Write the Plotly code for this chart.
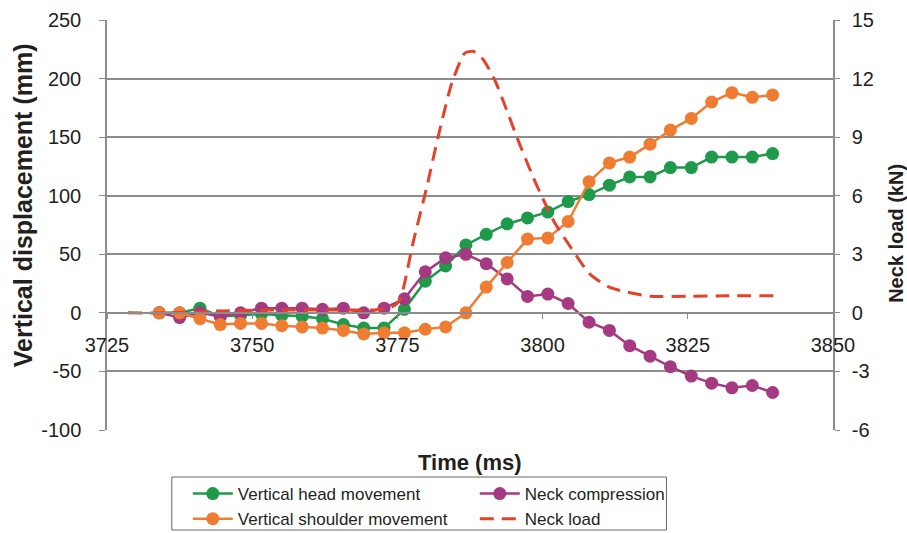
import plotly.graph_objects as go

# Time base (ms) shared by the three displacement series
time_ms = [3734.0, 3737.5, 3741.0, 3744.5, 3748.0, 3751.6, 3755.1, 3758.6, 3762.1, 3765.7,
           3769.2, 3772.7, 3776.2, 3779.8, 3783.3, 3786.8, 3790.3, 3793.9, 3797.4, 3800.9,
           3804.4, 3808.0, 3811.5, 3815.0, 3818.5, 3822.0, 3825.6, 3829.1, 3832.6, 3836.1,
           3839.6]

head_mm = [0, 0, 4, -3, -2, -1, -2, -3, -5, -10,
           -13, -13, 3, 27, 40, 58, 67, 76, 81, 86,
           95, 101, 109, 116, 116, 124, 124, 133, 133, 133,
           136]

shoulder_mm = [0, 0, -5, -10, -9, -9, -11, -12, -13, -15,
               -18, -17, -17, -14, -12, 0, 22, 43, 63, 64,
               78, 112, 128, 133, 144, 156, 166, 180, 188, 184,
               186]

compression_mm = [0, -4, 0, -3, 0, 4, 4, 4, 3, 4,
                  0, 4, 12, 35, 47, 50, 42, 29, 14, 16,
                  8, -8, -15, -28, -37, -46, -54, -60, -64, -62,
                  -68]

# Neck load (kN), right axis
load_t = [3728.6, 3735.0, 3745.0, 3755.0, 3765.0, 3771.0, 3774.0, 3775.4, 3777.7, 3780.1,
          3782.0, 3784.4, 3786.6, 3788.0, 3789.7, 3791.8, 3793.8, 3795.7, 3798.3, 3799.5,
          3802.1, 3805.2, 3808.1, 3811.6, 3815.5, 3818.5, 3825.0, 3832.0, 3840.0]
load_kn = [0, 0, 0.1, 0.15, 0.15, 0.15, 0.3, 0.65, 3.6, 6.5,
           9.0, 11.8, 13.3, 13.4, 13.0, 11.9, 10.4, 8.9, 7.0, 6.2,
           4.6, 3.2, 2.0, 1.3, 1.0, 0.85, 0.85, 0.87, 0.87]

x_ticks = [3725, 3750, 3775, 3800, 3825, 3850]
y_ticks = [-100, -50, 0, 50, 100, 150, 200, 250]
y_tick_labels = ["-100", "-50", "0", "50", "100", "150", "200", "250"]
y2_ticks = [-6, -3, 0, 3, 6, 9, 12, 15]
y2_tick_labels = ["-6", "-3", "0", "3", "6", "9", "12", "15"]

GREEN = "#1f9a4a"
PURPLE = "#a63a82"
ORANGE = "#f07c32"
RED = "#e4432a"
GRID = "#8c8c8c"
FONT = "Liberation Sans, Arial, sans-serif"
TXT = "#231f20"

fig = go.Figure()
fig.add_trace(go.Scatter(x=time_ms, y=head_mm, name="Vertical head movement",
                         mode="lines+markers", line=dict(color=GREEN, width=2.5),
                         marker=dict(color=GREEN, size=13), legendrank=1))
fig.add_trace(go.Scatter(x=time_ms, y=compression_mm, name="Neck compression",
                         mode="lines+markers", line=dict(color=PURPLE, width=2.5),
                         marker=dict(color=PURPLE, size=13), legendrank=2))
fig.add_trace(go.Scatter(x=time_ms, y=shoulder_mm, name="Vertical shoulder movement",
                         mode="lines+markers", line=dict(color=ORANGE, width=2.5),
                         marker=dict(color=ORANGE, size=13), legendrank=3))
fig.add_trace(go.Scatter(x=load_t, y=load_kn, name="Neck load", yaxis="y2",
                         mode="lines", line=dict(color=RED, width=3, dash="14px,8px",
                                                 shape="spline", smoothing=0.6),
                         legendrank=4))

fig.update_layout(
    width=907, height=533,
    margin=dict(l=107, r=74, t=20, b=103, autoexpand=False),
    paper_bgcolor="white", plot_bgcolor="white",
    font=dict(family=FONT, color=TXT),
    xaxis=dict(range=[3725, 3850], tickvals=x_ticks, anchor="free", position=100 / 350,
               showline=True, linecolor=GRID, linewidth=1.5, ticks="outside", ticklen=5,
               tickcolor=GRID, showgrid=False, zeroline=False,
               tickfont=dict(size=20, color=TXT), ticklabelstandoff=9),
    yaxis=dict(range=[-100, 250], tickvals=y_ticks, ticktext=y_tick_labels,
               showgrid=True, gridcolor=GRID,
               gridwidth=1.5, showline=True, linecolor=GRID, linewidth=1.5,
               ticks="outside", ticklen=6, tickcolor=GRID, zeroline=False,
               tickfont=dict(size=20, color=TXT), ticklabelstandoff=14),
    yaxis2=dict(range=[-6, 15], tickvals=y2_ticks, ticktext=y2_tick_labels,
                overlaying="y", side="right",
                showgrid=False, showline=True, linecolor=GRID, linewidth=1.5,
                ticks="outside", ticklen=5, tickcolor=GRID, zeroline=False,
                tickfont=dict(size=20, color=TXT), ticklabelstandoff=8),
    legend=dict(orientation="h", x=(188 - 107) / 728, y=(430 - 476) / 410,
                xanchor="left", yanchor="top",
                borderwidth=0, font=dict(size=17, color=TXT),
                entrywidth=232, entrywidthmode="pixels", itemwidth=40, tracegroupgap=0,
                bgcolor="rgba(0,0,0,0)"),
    showlegend=True,
    shapes=[dict(type="rect", xref="paper", yref="paper",
                 x0=(172 - 107) / 728, x1=(668 - 107) / 728,
                 y0=(430 - 530) / 410, y1=(430 - 477) / 410,
                 line=dict(color="#666666", width=1), fillcolor="rgba(0,0,0,0)")],
    annotations=[
        dict(text="<b>Vertical displacement (mm)</b>", xref="paper", yref="paper",
             x=(23 - 107) / 728, y=(430 - 205) / 410, textangle=-90, showarrow=False,
             font=dict(size=25, color=TXT), xanchor="center", yanchor="middle"),
        dict(text="<b>Neck load (kN)</b>", xref="paper", yref="paper",
             x=(898 - 107) / 728, y=(430 - 233) / 410, textangle=-90, showarrow=False,
             font=dict(size=20, color=TXT), xanchor="center", yanchor="middle"),
        dict(text="<b>Time (ms)</b>", xref="paper", yref="paper",
             x=0.5, y=(430 - 462) / 410, showarrow=False,
             font=dict(size=22, color=TXT), xanchor="center", yanchor="middle"),
    ],
)

fig.write_html("out.html")
